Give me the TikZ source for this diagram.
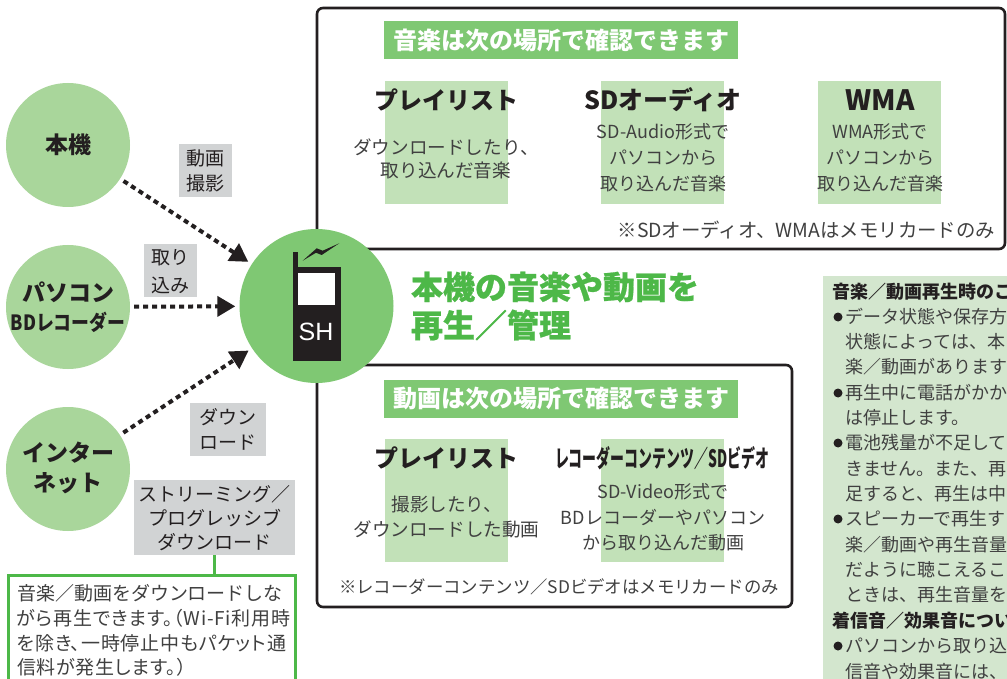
\documentclass[tikz,border=0pt]{standalone}
\usepackage{fontspec}
\usepackage{graphicx}
\usetikzlibrary{arrows.meta}
\setmainfont{Noto Sans CJK JP}
\newfontfamily\shfont{Liberation Sans}
\newfontfamily\heavy[FakeBold=0.7]{Noto Sans CJK JP}
\newcommand{\tightjp}{\addfontfeatures{RawFeature=+palt,LetterSpace=4}}
\definecolor{circlight}{HTML}{A9D69B}
\definecolor{circmain}{HTML}{7FC873}
\definecolor{collight}{HTML}{C2E1B8}
\definecolor{panel}{HTML}{D3E6CE}
\definecolor{graybox}{HTML}{D1D3D4}
\definecolor{boxgreen}{HTML}{4DB848}
\definecolor{ink}{HTML}{231F20}
\definecolor{soft}{HTML}{404040}
\tikzset{
  txt/.style={inner sep=0pt,outer sep=0pt,execute at begin node={\vphantom{あ}},text=soft,font=\fontsize{18}{18}\selectfont},
  body/.style={txt,font=\fontsize{18}{18}\selectfont},
  bodywide/.style={txt,font=\fontsize{18.6}{18.6}\selectfont},
  ltxt/.style={txt,anchor=west},
  bhead/.style={txt,anchor=west,text=ink,font=\fontsize{18}{18}\selectfont\bfseries},
  bullet/.style={inner sep=0pt,outer sep=0pt,circle,fill=ink,minimum size=9pt},
  tag/.style={txt,text=ink,font=\fontsize{19}{19}\selectfont},
  small/.style={txt,text=soft,font=\fontsize{19}{19}\selectfont,anchor=west},
  colhead/.style={txt,text=ink,font=\fontsize{24}{24}\selectfont\bfseries},
  circlabel/.style={txt,text=ink,font=\fontsize{23}{23}\selectfont\bfseries},
  headtxt/.style={txt,text=white,font=\fontsize{24}{24}\selectfont\bfseries},
  titletxt/.style={txt,anchor=west,text=boxgreen,font=\fontsize{32}{32}\selectfont\heavy\bfseries},
  headbox/.style={fill=circmain,inner sep=0pt,outer sep=0pt,minimum width=354pt,minimum height=38pt},
  colbox/.style={fill=collight,inner sep=0pt,outer sep=0pt,minimum width=123pt,minimum height=123pt},
  greybox/.style={fill=graybox,inner sep=0pt,outer sep=0pt},
  src/.style={circle,fill=circlight,inner sep=0pt,minimum size=124pt},
  frame/.style={draw=ink,line width=2.6pt,rounded corners=6pt,fill=white,inner sep=0pt},
  flow/.style={draw=ink,line width=4pt,dash pattern=on 5pt off 4pt,shorten <=4pt,shorten >=4pt,
    -{Triangle[length=18pt,width=20pt]}},
}
\begin{document}
\begin{tikzpicture}[x=1pt,y=-1pt]
\clip (0,0) rectangle (1007,679);
\fill[white] (0,0) rectangle (1007,679);
% frames
\node[frame,minimum width=688pt,minimum height=241pt] (topframe) at (661,128.5) {};
\node[frame,minimum width=475pt,minimum height=242pt] (botframe) at (554.5,486) {};
% headers
\node[headbox] (tophead) at (561,40) {};
\node[headtxt] at (tophead.center) {音楽は次の場所で確認できます};
\node[headbox] (bothead) at (561,398.5) {};
\node[headtxt] at (bothead.center) {動画は次の場所で確認できます};
% columns
\node[colbox] (c1) at (446.5,142.5) {};
\node[colbox] (c2) at (662.5,142.5) {};
\node[colbox] (c3) at (879.5,142.5) {};
\node[colbox] (c4) at (446.5,500.5) {};
\node[colbox] (c5) at (662.5,500.5) {};
\node[colhead] (h1) at (446,100) {プレイリスト};
\node[colhead,font=\fontsize{25}{25}\selectfont\bfseries] (h2) at (663,100) {SDオーディオ};
\node[colhead,font=\fontsize{28}{28}\selectfont\bfseries] (h3) at (880,100) {WMA};
\node[bodywide] (t11) at (446,147) {ダウンロードしたり、};
\node[bodywide] (t12) at (446,170) {取り込んだ音楽};
\node[body] (t21) at (663,132) {SD-Audio形式で};
\node[body] (t22) at (663,158) {パソコンから};
\node[body] (t23) at (663,184) {取り込んだ音楽};
\node[body] (t31) at (880,132) {WMA形式で};
\node[body] (t32) at (880,158) {パソコンから};
\node[body] (t33) at (880,184) {取り込んだ音楽};
\node[body,anchor=east,font=\fontsize{19.4}{19.4}\selectfont] (n1) at (995,230) {※SDオーディオ、WMAはメモリカードのみ};
\node[colhead] (h4) at (446,458) {プレイリスト};
\node[colhead] (h5) at (662,458) {\scalebox{.58}[1]{レコーダーコンテンツ／SDビデオ}};
\node[bodywide] (t41) at (447,504) {撮影したり、};
\node[bodywide] (t42) at (446.5,529) {ダウンロードした動画};
\node[body] (t51) at (663,492) {SD-Video形式で};
\node[body] (t52) at (663,517) {BDレコーダーやパソコン};
\node[body] (t53) at (663,543) {から取り込んだ動画};
\node[body,font=\fontsize{17.4}{18}\selectfont] (n2) at (559,587) {※レコーダーコンテンツ／SDビデオはメモリカードのみ};
% title
\node[titletxt] (ti1) at (411,287) {本機の音楽や動画を};
\node[titletxt] (ti2) at (411,325) {再生／管理};
% circles
\node[circle,fill=circmain,inner sep=0pt,minimum size=154pt] (main) at (316.5,306) {};
\node[src] (s1) at (68,145) {};
\node[src] (s2) at (68,307) {};
\node[src] (s3) at (68,469) {};
\node[circlabel] at (s1.center) {本機};
\node[circlabel] (s2a) at (68,292) {パソコン};
\node[circlabel,font=\fontsize{21}{21}\selectfont\bfseries] (s2b) at (68,322) {\scalebox{.85}[1]{BDレコーダー}};
\node[circlabel] (s3a) at (68,453) {インター};
\node[circlabel] (s3b) at (68,483) {ネット};
% connectors
\draw[flow] (s1) -- (main);
\draw[flow] (s2) -- (main);
\draw[flow] (s3) -- (main);
% phone
\fill[ink] (293,267) rectangle (341,361);
\fill[ink] (293,252) rectangle (298,267);
\fill[white] (298,273) rectangle (335,305);
\fill[ink] (302.7,260.7) -- (316.7,248.3) -- (322.7,250.7) -- (339.3,243.3) -- (321.7,255) -- (316,252.7) -- cycle;
\node[inner sep=0pt,text=white,font=\fontsize{25}{25}\selectfont\shfont] (sh) at (316,332) {SH};
% grey tags
\node[greybox,minimum width=53pt,minimum height=53pt] (g1) at (205.5,170.5) {};
\node[tag] at (205.5,158) {動画};
\node[tag] at (205.5,183) {撮影};
\node[greybox,minimum width=53pt,minimum height=53pt] (g2) at (170.5,270.5) {};
\node[tag] at (170.5,258) {取り};
\node[tag] at (170.5,285) {込み};
\node[greybox,minimum width=76pt,minimum height=53pt] (g3) at (228,429.5) {};
\node[tag] at (228,417) {ダウン};
\node[tag] at (228,442) {ロード};
\node[greybox,minimum width=161pt,minimum height=75pt] (g4) at (214.5,517.5) {};
\node[tag] at (214.5,494) {ストリーミング／};
\node[tag] at (214.5,518) {プログレッシブ};
\node[tag] at (214.5,542) {ダウンロード};
% streaming note
\node[draw=boxgreen,line width=3pt,fill=white,inner sep=0pt,minimum width=287pt,minimum height=130pt] (gn) at (151.5,640) {};
\draw[draw=boxgreen,line width=3pt] (g4.south) -- (g4.south |- gn.north);
\node[small] at (17,593) {音楽／動画をダウンロードしな};
\node[small] at (17,618) {\tightjp がら再生できます。（Wi-Fi利用時};
\node[small] at (17,643) {\tightjp を除き、一時停止中もパケット通};
\node[small] at (17,667) {\tightjp 信料が発生します。）};
% right panel
\fill[panel] (823,276) rectangle (1007,679);
\node[bhead] at (832,292) {音楽／動画再生時のこ};
\node[bullet] at (838,317) {};
\node[ltxt] at (845,317) {データ状態や保存方};
\node[ltxt] at (845,342) {状態によっては、本};
\node[ltxt] at (845,367) {楽／動画があります};
\node[bullet] at (838,393) {};
\node[ltxt] at (845,393) {再生中に電話がかか};
\node[ltxt] at (845,418) {は停止します。};
\node[bullet] at (838,443) {};
\node[ltxt] at (845,443) {電池残量が不足して};
\node[ltxt] at (845,469) {きません。また、再};
\node[ltxt] at (845,494) {足すると、再生は中};
\node[bullet] at (838,519) {};
\node[ltxt] at (845,519) {スピーカーで再生す};
\node[ltxt] at (845,545) {楽／動画や再生音量};
\node[ltxt] at (845,570) {だように聴こえるこ};
\node[ltxt] at (845,595) {ときは、再生音量を};
\node[bhead] at (832,621) {着信音／効果音につい};
\node[bullet] at (838,646) {};
\node[ltxt] at (845,646) {パソコンから取り込};
\node[ltxt] at (845,672) {信音や効果音には、};
\end{tikzpicture}
\end{document}
